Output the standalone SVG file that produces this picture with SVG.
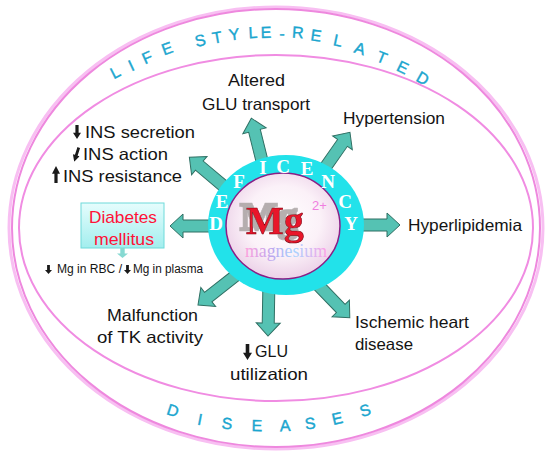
<svg xmlns="http://www.w3.org/2000/svg" width="550" height="457" viewBox="0 0 550 457">
<defs>
<style>
.lbl{font-family:"Liberation Sans",Arial,sans-serif;font-size:16.5px;fill:#141414}
.sm{font-family:"Liberation Sans",Arial,sans-serif;font-size:12px;fill:#141414}
.arc{font-family:"Liberation Sans",Arial,sans-serif;font-size:16px;fill:#1ba6cf;text-anchor:middle;stroke:#1ba6cf;stroke-width:0.4}
.ring{font-family:"Liberation Serif","Times New Roman",serif;font-size:19px;font-weight:bold;fill:#ffffff;text-anchor:middle}
.conn{fill:#55c2b3;stroke:#2f6f63;stroke-width:1}
.blk{fill:#1a1a1a}
.pk{fill:none}
</style>
<path id="arr" d="M-10,-6 H27 V-12 L40,0 L27,12 V6 H-10 Z"/>
<symbol id="dn" viewBox="0 0 10 20" preserveAspectRatio="none"><path d="M3,0 H7 V11 H10 L5,20 L0,11 H3 Z"/></symbol>
<radialGradient id="core" cx="50%" cy="45%" r="55%"><stop offset="0" stop-color="#ffffff"/><stop offset="0.6" stop-color="#fbf1f8"/><stop offset="1" stop-color="#ecd2e8"/></radialGradient>
<linearGradient id="box" x1="0" y1="0" x2="0" y2="1"><stop offset="0" stop-color="#e6fdfd"/><stop offset="1" stop-color="#a2eeee"/></linearGradient>
<linearGradient id="mag" x1="0" y1="0" x2="1" y2="0"><stop offset="0" stop-color="#ff9edc"/><stop offset="0.35" stop-color="#b8a8f0"/><stop offset="0.6" stop-color="#a8d4ff"/><stop offset="1" stop-color="#ff9ee6"/></linearGradient>
<filter id="shadow" x="-30%" y="-30%" width="160%" height="160%">
<feOffset in="SourceAlpha" dx="-6" dy="-4" result="o"/>
<feMorphology in="o" operator="dilate" radius="0.8" result="d"/>
<feFlood flood-color="#a9a2a2" flood-opacity="0.85"/>
<feComposite in2="d" operator="in" result="s"/>
<feMerge><feMergeNode in="s"/><feMergeNode in="SourceGraphic"/></feMerge>
</filter>
</defs>

<g id="frame">
<ellipse class="pk" cx="276" cy="228" rx="267" ry="221" stroke="#f8bff2" stroke-width="3"/>
<ellipse class="pk" cx="276" cy="228" rx="264" ry="219" stroke="#ee88de" stroke-width="2"/>
<ellipse class="pk" cx="276" cy="228" rx="257" ry="173" stroke="#f08ce2" stroke-width="2"/>
</g>

<g id="title-top">
<text class="arc" transform="translate(115,72) rotate(-27)" y="6">L</text>
<text class="arc" transform="translate(131,65) rotate(-25)" y="6">I</text>
<text class="arc" transform="translate(147,57) rotate(-24)" y="6">F</text>
<text class="arc" transform="translate(167,48) rotate(-20)" y="6">E</text>
<text class="arc" transform="translate(200,40) rotate(-13)" y="6">S</text>
<text class="arc" transform="translate(217,37) rotate(-10)" y="6">T</text>
<text class="arc" transform="translate(234,34) rotate(-7)" y="6">Y</text>
<text class="arc" transform="translate(253,32) rotate(-3)" y="6">L</text>
<text class="arc" transform="translate(266,32) rotate(-1)" y="6">E</text>
<text class="arc" transform="translate(282,33) rotate(1)" y="6">-</text>
<text class="arc" transform="translate(298,32) rotate(4)" y="6">R</text>
<text class="arc" transform="translate(316,35) rotate(8)" y="6">E</text>
<text class="arc" transform="translate(338,40) rotate(12)" y="6">L</text>
<text class="arc" transform="translate(360,48) rotate(17)" y="6">A</text>
<text class="arc" transform="translate(382,57) rotate(22)" y="6">T</text>
<text class="arc" transform="translate(403,67) rotate(26)" y="6">E</text>
<text class="arc" transform="translate(423,78) rotate(30)" y="6">D</text>
</g>

<g id="title-bottom">
<text class="arc" transform="translate(173,410) rotate(18)" y="6">D</text>
<text class="arc" transform="translate(200,419) rotate(11)" y="6">I</text>
<text class="arc" transform="translate(227,423) rotate(5)" y="6">S</text>
<text class="arc" transform="translate(257,425) rotate(1)" y="6">E</text>
<text class="arc" transform="translate(285,425) rotate(-2)" y="6">A</text>
<text class="arc" transform="translate(310,423) rotate(-7)" y="6">S</text>
<text class="arc" transform="translate(337,418) rotate(-13)" y="6">E</text>
<text class="arc" transform="translate(365,410) rotate(-18)" y="6">S</text>
</g>

<g id="connectors">
<use href="#arr" class="conn" transform="translate(360,225)"/>
<use href="#arr" class="conn" transform="translate(327,165) rotate(-55)"/>
<use href="#arr" class="conn" transform="translate(261,157) rotate(-104)"/>
<use href="#arr" class="conn" transform="translate(220,183) rotate(-140)"/>
<use href="#arr" class="conn" transform="translate(210,226) rotate(180)"/>
<use href="#arr" class="conn" transform="translate(229.5,280.4) rotate(142)"/>
<use href="#arr" class="conn" transform="translate(268.7,296) rotate(91)"/>
<use href="#arr" class="conn" transform="translate(322,289) rotate(46)"/>
</g>

<g id="center">
<ellipse cx="286" cy="225" rx="78" ry="70" fill="#22e2ea"/>
<ellipse cx="283" cy="226" rx="57" ry="53" fill="url(#core)" stroke="#8a1f86" stroke-width="1.5"/>
<text class="ring" x="216" y="230">D</text>
<text class="ring" x="222" y="208">E</text>
<text class="ring" x="239" y="188">F</text>
<text class="ring" x="263" y="174">I</text>
<text class="ring" x="283" y="173">C</text>
<text class="ring" x="307" y="175">E</text>
<text class="ring" x="328" y="188">N</text>
<text class="ring" x="345" y="208">C</text>
<text class="ring" x="351" y="230">Y</text>
<text x="246" y="234" font-family="Liberation Serif, serif" font-weight="bold" font-size="40" fill="#e8172b" stroke="#7a0010" stroke-width="0.6" filter="url(#shadow)">Mg</text>
<text x="312" y="210" font-family="Liberation Sans, sans-serif" font-size="13" fill="#f07ee0">2+</text>
<text x="245" y="257" font-family="Liberation Serif, serif" font-size="18" fill="url(#mag)" textLength="82" lengthAdjust="spacingAndGlyphs">magnesium</text>
</g>

<g id="n-glu-transport">
<text class="lbl" x="228" y="86" textLength="57" lengthAdjust="spacingAndGlyphs">Altered</text>
<text class="lbl" x="202" y="110" textLength="108" lengthAdjust="spacingAndGlyphs">GLU transport</text>
</g>

<g id="n-hypertension">
<text class="lbl" x="343" y="124" textLength="102" lengthAdjust="spacingAndGlyphs">Hypertension</text>
</g>

<g id="n-hyperlipidemia">
<text class="lbl" x="408" y="231" textLength="114" lengthAdjust="spacingAndGlyphs">Hyperlipidemia</text>
</g>

<g id="n-ins">
<use href="#dn" class="blk" x="73" y="125" width="8" height="14"/>
<text class="lbl" x="85" y="138" textLength="110" lengthAdjust="spacingAndGlyphs">INS secretion</text>
<use href="#dn" class="blk" x="73" y="147" width="7" height="15" transform="rotate(18 76.5 154.5)"/>
<text class="lbl" x="83" y="160" textLength="85" lengthAdjust="spacingAndGlyphs">INS action</text>
<use href="#dn" class="blk" x="52" y="166" width="8" height="17" transform="rotate(180 56 174.5)"/>
<text class="lbl" x="63" y="182" textLength="119" lengthAdjust="spacingAndGlyphs">INS resistance</text>
</g>

<g id="n-diabetes">
<rect x="81" y="203" width="83" height="45" fill="url(#box)" stroke="#6fdada" stroke-width="1"/>
<text class="lbl" x="89" y="223" style="fill:#ff1238;font-size:17px" textLength="68" lengthAdjust="spacingAndGlyphs">Diabetes</text>
<text class="lbl" x="94" y="245" style="fill:#ff1238;font-size:17px" textLength="60" lengthAdjust="spacingAndGlyphs">mellitus</text>
<use href="#dn" x="117" y="248" width="11" height="10" fill="#86d9d2"/>
<use href="#dn" class="blk" x="45" y="265" width="7" height="9"/>
<text class="sm" x="57" y="273" textLength="65" lengthAdjust="spacingAndGlyphs">Mg in RBC /</text>
<use href="#dn" class="blk" x="124" y="265" width="7" height="9"/>
<text class="sm" x="133" y="273" textLength="70" lengthAdjust="spacingAndGlyphs">Mg in plasma</text>
</g>

<g id="n-tk">
<text class="lbl" x="107" y="321" textLength="91" lengthAdjust="spacingAndGlyphs">Malfunction</text>
<text class="lbl" x="97" y="343" textLength="106" lengthAdjust="spacingAndGlyphs">of TK activity</text>
</g>

<g id="n-glu-util">
<use href="#dn" class="blk" x="243" y="344" width="9" height="16"/>
<text class="lbl" x="255" y="357" textLength="33" lengthAdjust="spacingAndGlyphs">GLU</text>
<text class="lbl" x="230" y="380" textLength="78" lengthAdjust="spacingAndGlyphs">utilization</text>
</g>

<g id="n-ischemic">
<text class="lbl" x="355" y="328" textLength="114" lengthAdjust="spacingAndGlyphs">Ischemic heart</text>
<text class="lbl" x="355" y="350" textLength="58" lengthAdjust="spacingAndGlyphs">disease</text>
</g>
</svg>
